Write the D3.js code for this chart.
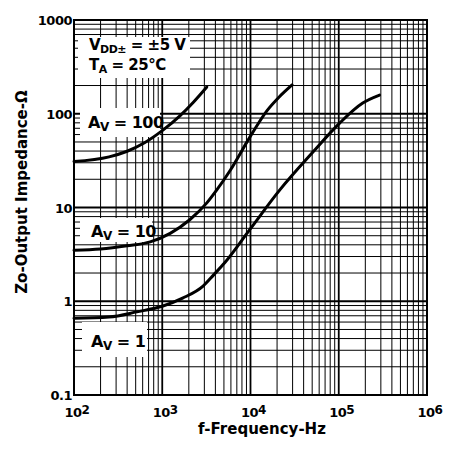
<!DOCTYPE html>
<html>
<head>
<meta charset="utf-8">
<script src="https://cdn.jsdelivr.net/npm/d3@7"></script>
<style>
  body { margin: 0; background: #fff; }
  svg { display: block; }
  text { fill: #000; }
  .tick-label { font-family: "DejaVu Sans", sans-serif; font-weight: bold; font-size: 13px; }
  .axis-title { font-family: "DejaVu Sans", sans-serif; font-size: 15px; font-weight: bold; }
  .note { font-family: "DejaVu Sans", sans-serif; font-weight: bold; }
</style>
</head>
<body>
<div id="chart"></div>
<script>
// Output impedance vs frequency, three closed-loop gains
const freqA100 = [100, 250, 400, 630, 1000, 1585, 2240, 3200];
const zA100    = [31, 34.7, 39.8, 49, 66, 95, 132, 193];

const freqA10 = [100, 200, 400, 730, 1230, 2050, 3200, 4150, 5900, 9800, 15400, 21000, 29600];
const zA10    = [3.5, 3.6, 3.9, 4.3, 5.3, 7.4, 11.2, 15.4, 25, 56, 108, 150, 203];

const freqA1 = [100, 250, 515, 1020, 1700, 2900, 3800, 5100, 9800, 21500, 51000, 103000, 187000, 290000];
const zA1    = [0.66, 0.68, 0.77, 0.89, 1.08, 1.45, 1.9, 2.57, 5.8, 15.4, 39, 80, 130, 158];

const xTickExp = [2, 3, 4, 5, 6];
const yTickVals = [0.1, 1, 10, 100, 1000];
const yTickText = ["0.1", "1", "10", "100", "1000"];

const W = 449, H = 452;
const margin = {top: 20, right: 22, bottom: 57, left: 74};
const width = W - margin.left - margin.right;
const height = H - margin.top - margin.bottom;

const svg = d3.select("#chart").append("svg")
    .attr("width", W)
    .attr("height", H);

const g = svg.append("g")
    .attr("transform", `translate(${margin.left},${margin.top})`);

const x = d3.scaleLog().domain([1e2, 1e6]).range([0, width]);
const y = d3.scaleLog().domain([0.1, 1000]).range([height, 0]);

// log grid, 1..9 in every decade
let xGrid = [];
for (let e = 2; e < 6; e++) for (let k = 1; k < 10; k++) xGrid.push(k * Math.pow(10, e));
let yGrid = [];
for (let e = -1; e < 3; e++) for (let k = 1; k < 10; k++) yGrid.push(k * Math.pow(10, e));

const isMajor = d => Math.abs(Math.log10(d) - Math.round(Math.log10(d))) < 1e-9;

g.append("g").selectAll("line")
    .data(xGrid)
    .enter().append("line")
    .attr("x1", d => x(d)).attr("x2", d => x(d))
    .attr("y1", 0).attr("y2", height)
    .attr("stroke", "#000")
    .attr("stroke-width", d => isMajor(d) ? 1.8 : 1);

g.append("g").selectAll("line")
    .data(yGrid)
    .enter().append("line")
    .attr("y1", d => y(d)).attr("y2", d => y(d))
    .attr("x1", 0).attr("x2", width)
    .attr("stroke", "#000")
    .attr("stroke-width", d => isMajor(d) ? 1.8 : 1);

// white patches behind the notes
const boxes = [
    {x0: 4, y0: 17, x1: 116, y1: 58},
    {x0: 6, y0: 88, x1: 86, y1: 117},
    {x0: 6, y0: 198, x1: 78, y1: 222},
    {x0: 8, y0: 302, x1: 73, y1: 337}
];
g.append("g").selectAll("rect")
    .data(boxes)
    .enter().append("rect")
    .attr("x", d => d.x0).attr("y", d => d.y0)
    .attr("width", d => d.x1 - d.x0).attr("height", d => d.y1 - d.y0)
    .attr("fill", "#fff");

// frame
g.append("rect")
    .attr("width", width).attr("height", height)
    .attr("fill", "none")
    .attr("stroke", "#000")
    .attr("stroke-width", 2);

// curves
const line = d3.line()
    .x(d => x(d[0]))
    .y(d => y(d[1]))
    .curve(d3.curveMonotoneX);

[[freqA100, zA100], [freqA10, zA10], [freqA1, zA1]].forEach(s => {
    g.append("path")
        .datum(s[0].map((f, i) => [f, s[1][i]]))
        .attr("d", line)
        .attr("fill", "none")
        .attr("stroke", "#000")
        .attr("stroke-width", 3)
        .attr("stroke-linecap", "round");
});

// y tick labels
g.append("g").selectAll("text")
    .data(yTickVals)
    .enter().append("text")
    .attr("class", "tick-label")
    .attr("x", -2)
    .attr("y", d => y(d) + 5)
    .attr("text-anchor", "end")
    .attr("letter-spacing", -0.5)
    .text((d, i) => yTickText[i]);

// x tick labels, 10 with exponent
const xl = g.append("g").selectAll("text")
    .data(xTickExp)
    .enter().append("text")
    .attr("class", "tick-label")
    .attr("x", d => x(Math.pow(10, d)) + 3)
    .attr("y", height + 22)
    .attr("text-anchor", "middle")
    .attr("letter-spacing", -0.5);
xl.append("tspan").text("10");
xl.append("tspan").attr("dy", -3).attr("font-size", 12).text(d => d);

// axis titles
svg.append("text")
    .attr("class", "axis-title")
    .attr("x", 262)
    .attr("y", 434)
    .attr("text-anchor", "middle")
    .text("f-Frequency-Hz");

svg.append("text")
    .attr("class", "axis-title")
    .attr("transform", "translate(27,192) rotate(-90)")
    .attr("text-anchor", "middle")
    .text("Zo-Output Impedance-Ω");

// notes
const n1 = g.append("text").attr("class", "note").attr("x", 15).attr("y", 30).attr("font-size", 15).attr("letter-spacing", -0.5);
n1.append("tspan").text("V");
n1.append("tspan").attr("dy", 3).attr("font-size", 11).text("DD±");
n1.append("tspan").attr("dy", -3).text(" = ±5 V");

const n2 = g.append("text").attr("class", "note").attr("x", 15).attr("y", 50).attr("font-size", 15).attr("letter-spacing", -0.5);
n2.append("tspan").text("T");
n2.append("tspan").attr("dy", 3).attr("font-size", 11).text("A");
n2.append("tspan").attr("dy", -3).text(" = 25°C");

const gainLabels = [
    {txt: "= 100", x: 14, y: 108},
    {txt: "= 10", x: 17, y: 217},
    {txt: "= 1", x: 17, y: 327}
];
gainLabels.forEach(d => {
    const t = g.append("text").attr("class", "note")
        .attr("x", d.x).attr("y", d.y)
        .attr("font-size", 16).attr("letter-spacing", -0.5);
    t.append("tspan").text("A");
    t.append("tspan").attr("dy", 3).attr("font-size", 12).text("V");
    t.append("tspan").attr("dy", -3).text(" " + d.txt);
});
</script>
</body>
</html>
